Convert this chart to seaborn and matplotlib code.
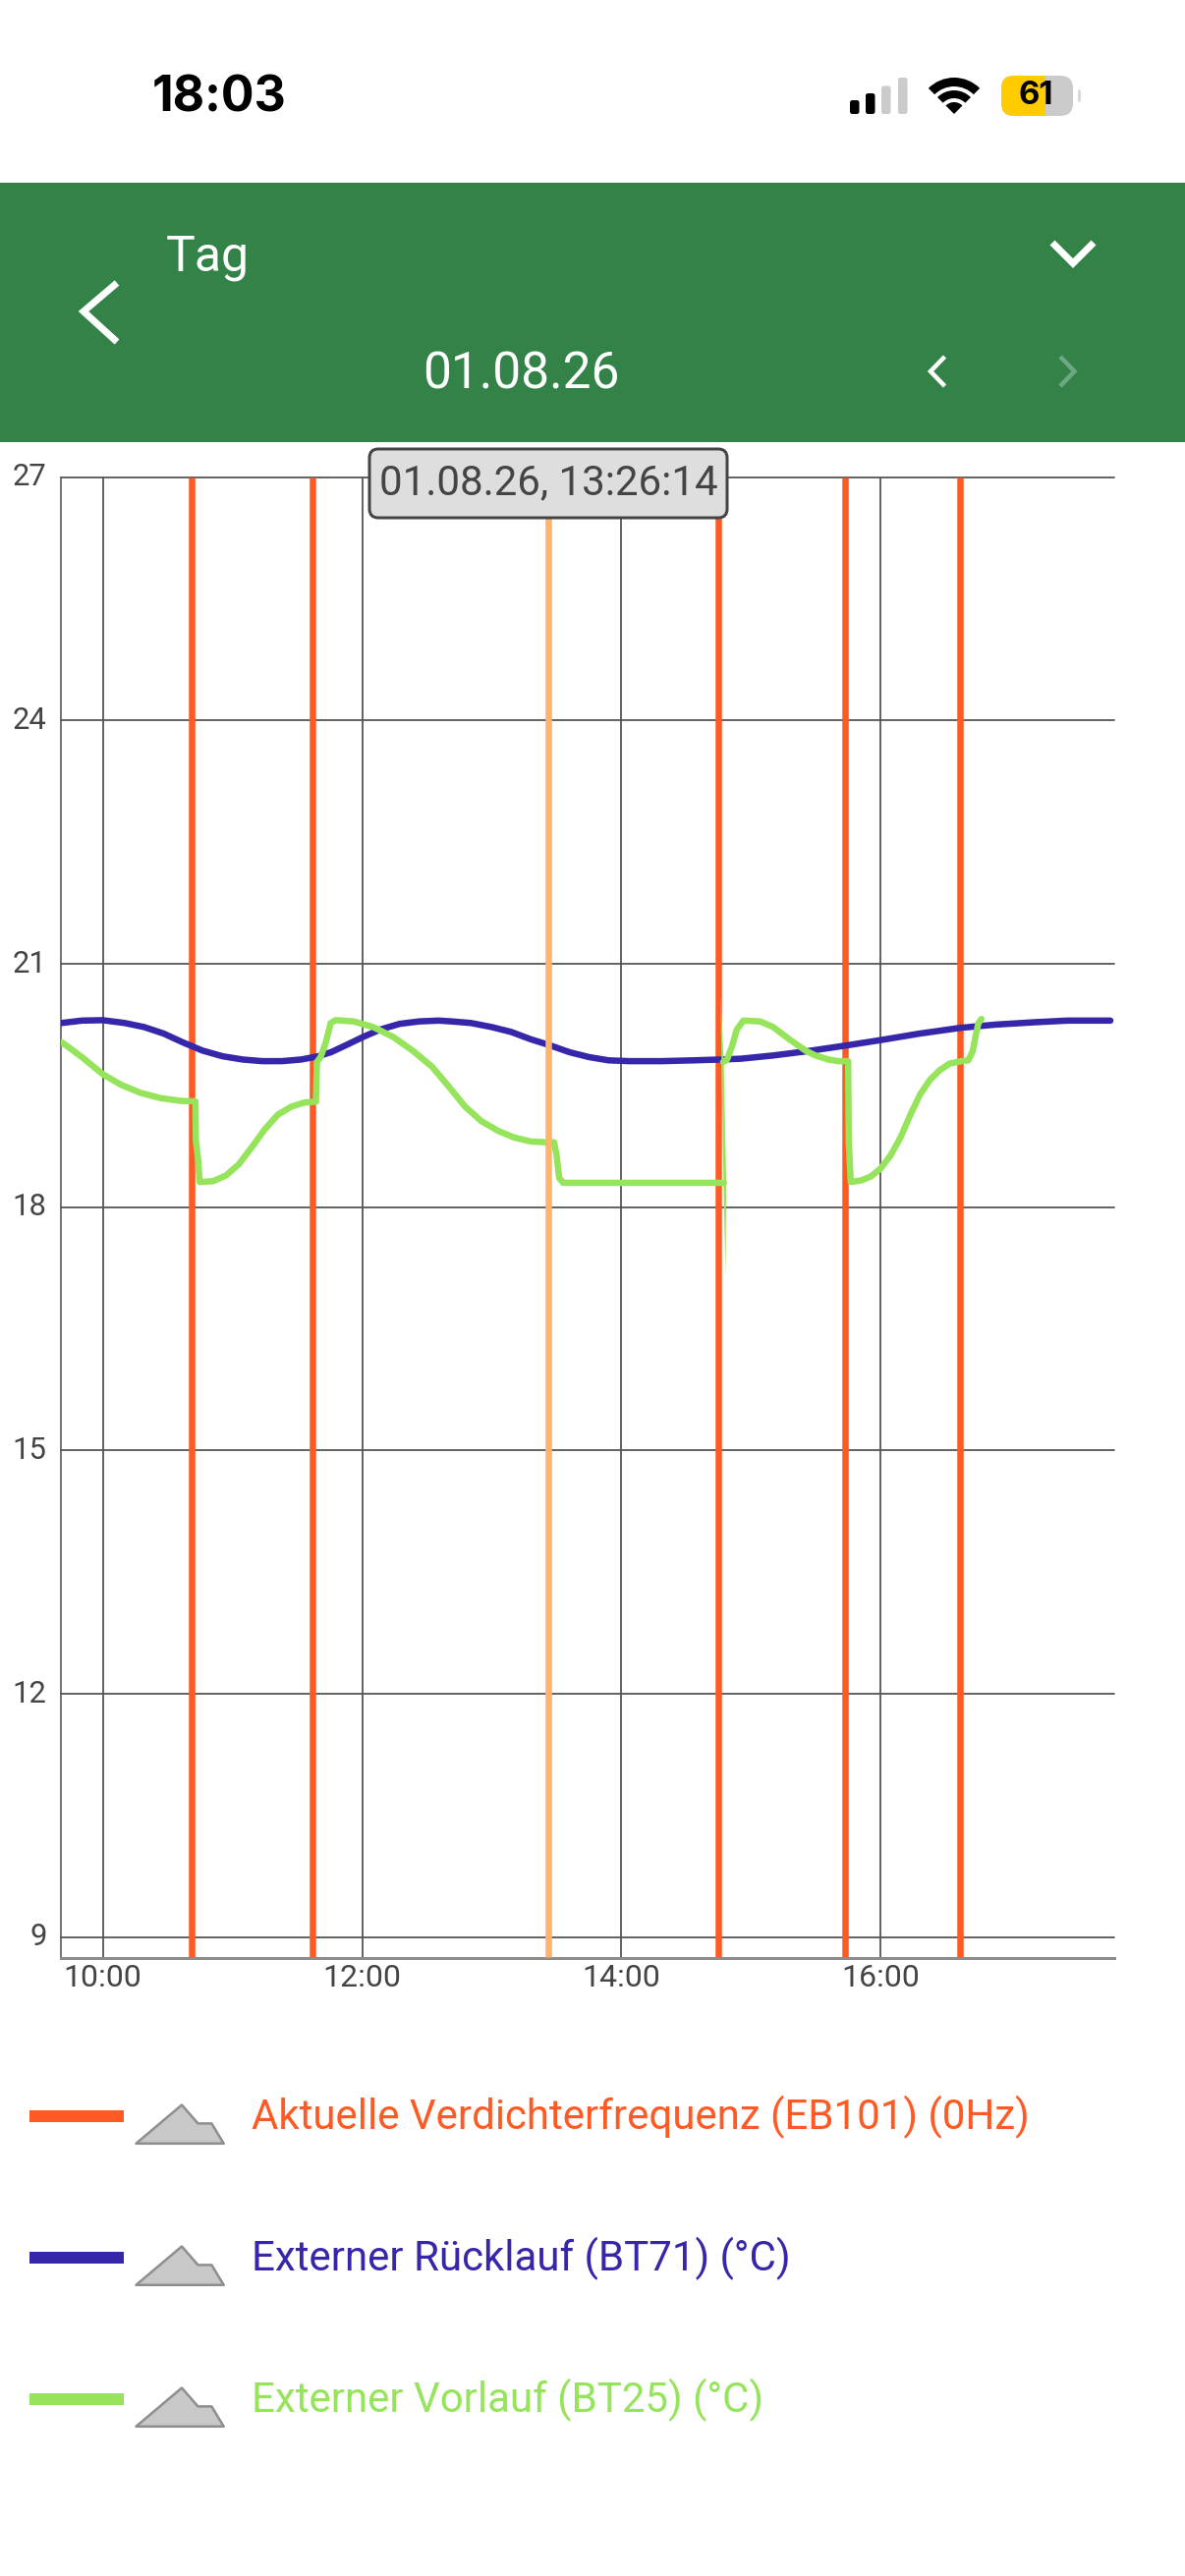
import matplotlib
matplotlib.use("Agg")
import matplotlib.pyplot as plt
import pandas as pd
import seaborn as sns
from matplotlib.patches import FancyBboxPatch, Polygon, Rectangle, Wedge
from matplotlib.transforms import ScaledTranslation

# ---- data -------------------------------------------------------------------
y_ticks = [9, 12, 15, 18, 21, 24, 27]
x_ticks = [10, 12, 14, 16]
x_labels = ["10:00", "12:00", "14:00", "16:00"]

compressor_hours = [10.687, 11.617, 14.749, 15.721, 16.611]
cursor_hour = 13.438

return_hours = [9.68, 9.84, 10.0, 10.17, 10.32, 10.47, 10.62, 10.77, 10.925, 11.08, 11.23,
                11.38, 11.53, 11.66, 11.76, 11.88, 12.01, 12.14, 12.29, 12.44, 12.59,
                12.69, 12.84, 13.0, 13.15, 13.3, 13.44, 13.6, 13.75, 13.9, 14.06, 14.31,
                14.56, 14.76, 14.92, 15.17, 15.42, 15.72, 16.0, 16.3, 16.61, 16.88, 17.19,
                17.44, 17.77]
return_temps = [20.27, 20.3, 20.305, 20.27, 20.22, 20.14, 20.03, 19.93, 19.86, 19.82, 19.8,
                19.8, 19.82, 19.86, 19.91, 20.0, 20.1, 20.19, 20.26, 20.29, 20.3,
                20.29, 20.27, 20.22, 20.16, 20.07, 20.0, 19.91, 19.85, 19.81, 19.8, 19.8,
                19.81, 19.82, 19.83, 19.87, 19.92, 19.99, 20.06, 20.14, 20.21, 20.25, 20.28,
                20.3, 20.3]

# flow line up to the jump at 14:47
flow_hours_a = [9.687, 9.84, 10.0, 10.14, 10.29, 10.445, 10.6, 10.715, 10.718, 10.735, 10.748,
                10.85, 10.95, 11.05, 11.15, 11.25, 11.35, 11.455, 11.556, 11.644, 11.652,
                11.68, 11.72, 11.758, 11.795, 11.935, 12.086, 12.238, 12.39, 12.54, 12.667,
                12.794, 12.92, 13.05, 13.17, 13.3, 13.425, 13.48, 13.5, 13.52, 13.55, 14.06,
                14.79]
flow_temps_a = [20.03, 19.85, 19.64, 19.51, 19.41, 19.345, 19.31, 19.305, 18.82, 18.6, 18.31,
                18.32, 18.39, 18.53, 18.74, 18.96, 19.14, 19.24, 19.29, 19.3, 19.79,
                19.85, 20.03, 20.27, 20.305, 20.29, 20.22, 20.1, 19.93, 19.73, 19.49,
                19.24, 19.06, 18.94, 18.86, 18.81, 18.8, 18.8, 18.64, 18.36, 18.3, 18.3,
                18.3]
# and after it
flow_hours_b = [14.785, 14.814, 14.85, 14.89, 14.94, 15.07, 15.17, 15.294, 15.42, 15.495, 15.596,
                15.672, 15.748, 15.753, 15.768, 15.85, 15.925, 16.0, 16.076, 16.152, 16.228,
                16.303, 16.379, 16.455, 16.53, 16.62, 16.675, 16.71, 16.733, 16.753, 16.776]
flow_temps_b = [19.79, 19.82, 19.97, 20.19, 20.3, 20.29, 20.22, 20.07, 19.93, 19.87, 19.82,
                19.8, 19.8, 18.8, 18.31, 18.33, 18.38, 18.48, 18.64, 18.86, 19.14,
                19.39, 19.57, 19.69, 19.77, 19.8, 19.81, 19.93, 20.13, 20.27, 20.32]

spike_hours = [14.762, 14.789, 14.808, 14.803, 14.787, 14.772]
spike_temps = [20.62, 19.8, 18.3, 17.14, 18.3, 19.8]

legend_labels = ["Aktuelle Verdichterfrequenz (EB101) (0Hz)",
                 "Externer Rücklauf (BT71) (°C)",
                 "Externer Vorlauf (BT25) (°C)"]

C_COMP = "#FF5A24"
C_CURSOR = "#FFB36B"
C_RET = "#3626A9"
C_FLOW = "#96E35C"
C_HEAD = "#338348"
C_GRID = "#555555"
C_TEXT = "#444444"
legend_colors = [C_COMP, C_RET, C_FLOW]

# ---- figure -----------------------------------------------------------------
W, H = 1206, 2622
sns.set_theme(style="white")
plt.rcParams["font.family"] = ["Roboto", "DejaVu Sans"]

fig = plt.figure(figsize=(W / 100, H / 100), dpi=100, facecolor="white")


def px(v):
    return v * 0.72


# chart axes, placed in pixels
L, R, T, B = 62.3, 1134, 485.6, 1992.5
ax = fig.add_axes([L / W, 1 - B / H, (R - L) / W, (B - T) / H])
ax.set_xlim(9.68, 17.8)
ax.set_ylim(8.75, 27)
ax.set_xticks(x_ticks, x_labels)
ax.set_yticks(y_ticks)
ax.tick_params(axis="both", length=0, labelcolor=C_TEXT)
ax.tick_params(axis="x", pad=5, labelsize=px(32))
ax.tick_params(axis="y", pad=10.5, labelsize=px(31))
for lab in ax.get_yticklabels():
    lab.set_transform(lab.get_transform() + ScaledTranslation(0, 3 / 100, fig.dpi_scale_trans))
ax.grid(True, color=C_GRID, linewidth=px(1.8))
for g in ax.get_ygridlines():
    g.set_clip_on(False)
ax.set_axisbelow(True)
for side in ["top", "right"]:
    ax.spines[side].set_visible(False)
ax.spines["left"].set_color(C_GRID)
ax.spines["left"].set_linewidth(px(1.6))
ax.spines["bottom"].set_color("#8C8C8C")
ax.spines["bottom"].set_linewidth(px(3))

ax.vlines(compressor_hours, 8.75, 27, color=C_COMP, linewidth=px(6.5), zorder=2.5)
sns.lineplot(x=return_hours, y=return_temps, sort=False, estimator=None, color=C_RET,
             linewidth=px(6.5), ax=ax, zorder=3)
for hrs, tmp in [(flow_hours_a, flow_temps_a), (flow_hours_b, flow_temps_b)]:
    sns.lineplot(data=pd.DataFrame({"h": hrs, "t": tmp}), x="h", y="t", sort=False,
                 estimator=None, color=C_FLOW, linewidth=px(6.5), ax=ax, zorder=5)
ax.fill(spike_hours, spike_temps, color=C_FLOW, linewidth=0, zorder=5)
ax.vlines([cursor_hour], 8.75, 27, color=C_CURSOR, linewidth=px(6.5), zorder=6)
ax.set_xlabel("")
ax.set_ylabel("")

# overlay in pixel coordinates for the app chrome
ov = fig.add_axes([0, 0, 1, 1], zorder=10)
ov.set_xlim(0, W)
ov.set_ylim(H, 0)
ov.axis("off")
ov.patch.set_alpha(0)

ov.add_patch(Rectangle((0, 186), W, 264, color=C_HEAD, linewidth=0))


def chevron(pts, color="white", lw=6):
    xs, ys = zip(*pts)
    ov.plot(xs, ys, color=color, lw=px(lw), solid_joinstyle="miter", solid_capstyle="butt")


chevron([(119, 288), (85, 317), (119, 348)], lw=7)
chevron([(1071, 247), (1092, 268), (1113, 247)], lw=7)
chevron([(961.5, 363), (947, 378), (961.5, 393)], lw=4.5)
chevron([(1079, 363), (1093.5, 378), (1079, 393)], color="#6FA683", lw=4.5)

ov.text(169, 262, "Tag", color="white", fontsize=px(50), ha="left", va="center")
ov.text(530, 382, "01.08.26", color="white", fontsize=px(51.5), ha="center", va="center")

# status bar
ov.text(223, 100, "18:03", color="black", fontsize=px(50), fontweight="bold",
        family=["Inter", "DejaVu Sans"], ha="center", va="center")
cell_x = [865, 881, 897, 914]
cell_top = [102, 95, 87.5, 79]
cell_col = ["black", "black", "#CBCBCB", "#CBCBCB"]
for x0, top, col in zip(cell_x, cell_top, cell_col):
    ov.add_patch(FancyBboxPatch((x0 + 2, top + 2), 5.5, 116 - top - 4,
                                boxstyle="round,pad=2,rounding_size=2.5", color=col, linewidth=0))
for r, wd in [(37, 9), (24, 8), (12, 12)]:
    ov.add_patch(Wedge((971, 116), r, -135, -45, width=wd, color="black", linewidth=0))
batt = FancyBboxPatch((1027, 85), 57, 25, boxstyle="round,pad=8,rounding_size=13",
                      color="#CBCBCB", linewidth=0)
ov.add_patch(batt)
yellow = Rectangle((1019, 77), 45, 41, color="#FFCC00", linewidth=0)
ov.add_patch(yellow)
yellow.set_clip_path(batt)
ov.add_patch(FancyBboxPatch((1097, 91), 3, 13, boxstyle="round,pad=0,rounding_size=2",
                            color="#D8D8D8", linewidth=0))
ov.text(1054, 98, "61", color="black", fontsize=px(33), fontweight="bold",
        family=["Inter", "DejaVu Sans"], ha="center", va="center")

# tooltip
ov.add_patch(FancyBboxPatch((384, 465), 348, 54, boxstyle="round,pad=8,rounding_size=9",
                            facecolor="#DEDEDE", edgecolor="#444444", linewidth=px(3)))
ov.text(558, 492, "01.08.26, 13:26:14", color=C_TEXT, fontsize=px(42), ha="center", va="center")

# legend
icon = [(138.5, 2181.8), (185, 2142.5), (201.5, 2161.4), (215.4, 2161.4), (227.7, 2181.8)]
for i, (lab, col) in enumerate(zip(legend_labels, legend_colors)):
    dy = 144 * i
    ov.add_patch(Rectangle((30, 2148 + dy), 96, 12, color=col, linewidth=0))
    ov.add_patch(Polygon([(x, y + dy) for x, y in icon], closed=True, facecolor="#C8C8C8",
                         edgecolor="#8E8E8E", linewidth=px(2.5), joinstyle="round"))
    ov.text(256, 2155 + dy, lab, color=col, fontsize=px(42), ha="left", va="center")

fig.savefig("out.png", dpi=100, facecolor="white")
plt.close(fig)
